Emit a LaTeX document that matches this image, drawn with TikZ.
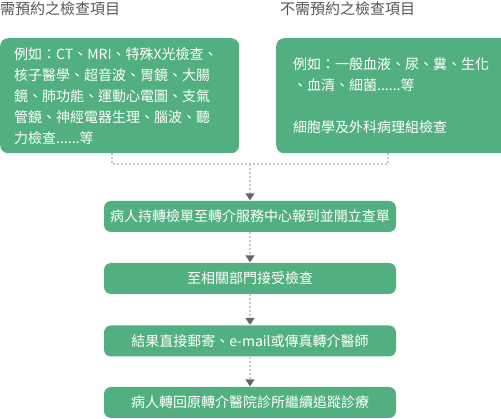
\documentclass[tikz,border=0pt]{standalone}
\usepackage{fontspec}
\setmainfont{Noto Sans CJK TC}
\usetikzlibrary{arrows.meta,calc}
\definecolor{boxgreen}{RGB}{82,176,128}
\definecolor{titlegray}{RGB}{85,85,85}
\definecolor{dotgray}{RGB}{200,200,200}
\definecolor{tipgray}{RGB}{100,100,100}
\tikzset{
  bigbox/.style={fill=boxgreen, rounded corners=8pt, text=white, inner xsep=0pt, inner ysep=0pt, anchor=north west, align=left, font=\fontsize{14}{21}\selectfont},
  stepbox/.style={fill=boxgreen, rounded corners=7pt, text=white, minimum width=292pt, minimum height=31pt, inner sep=0pt, font=\fontsize{14}{17}\selectfont},
  titletext/.style={text=titlegray, inner sep=0pt, anchor=west, font=\fontsize{15}{18}\selectfont},
  dotline/.style={draw=dotgray, line width=1.5pt, dash pattern=on 2pt off 2pt},
  dotarrow/.style={dotline, -{Triangle[width=9pt,length=7pt,color=tipgray]}, shorten >=0.5pt}
}
\begin{document}
\begin{tikzpicture}[x=1pt,y=-1pt]
\useasboundingbox (0,0) rectangle (501,419);
\node[titletext] (t1) at (0,9) {需預約之檢查項目};
\node[titletext] (t2) at (280,9) {不需預約之檢查項目};
\node[bigbox, minimum width=225pt, minimum height=115pt, text width=211pt, inner xsep=14pt] (lb) at (0,38)
 {例如：CT、MRI、特殊X光檢查、\\核子醫學、超音波、胃鏡、大腸\\鏡、肺功能、運動心電圖、支氣\\管鏡、神經電器生理、腦波、聽\\力檢查......等};
\node[bigbox, minimum width=225pt, minimum height=115pt, text width=208pt, inner xsep=17pt] (rb) at (276,38)
 {例如：一般血液、尿、糞、生化\\、血清、細菌......等\\[21pt]細胞學及外科病理組檢查};
\node[stepbox] (s1) at (250,216.5) {病人持轉檢單至轉介服務中心報到並開立查單};
\node[stepbox] (s2) at (250,278.5) {至相關部門接受檢查};
\node[stepbox] (s3) at (250,341) {結果直接郵寄、e-mail或傳真轉介醫師};
\node[stepbox] (s4) at (250,402.5) {病人轉回原轉介醫院診所繼續追蹤診療};
\coordinate (ja) at (112,164);
\coordinate (jb) at (388,164);
\coordinate (jm) at (250,164);
\draw[dotline] (lb.south -| ja) -- (ja) -- (jb) -- (rb.south -| jb);
\draw[dotarrow] (jm) -- (s1.north);
\draw[dotarrow] (s1) -- (s2);
\draw[dotarrow] (s2) -- (s3);
\draw[dotarrow] (s3) -- (s4);
\end{tikzpicture}
\end{document}
